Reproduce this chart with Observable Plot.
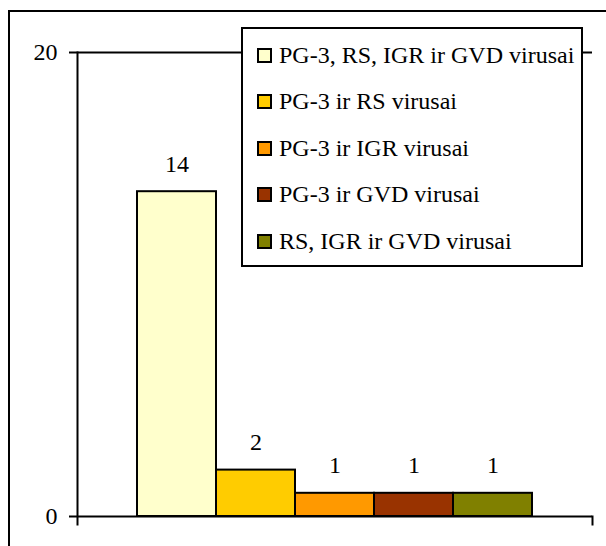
<!DOCTYPE html>
<html>
<head>
<meta charset="utf-8">
<script src="https://cdn.jsdelivr.net/npm/d3@7"></script>
<script src="https://cdn.jsdelivr.net/npm/@observablehq/plot@0.6"></script>
<style>
  body { margin: 0; font-family: 'Liberation Serif', serif; }
  .wrap { position: relative; width: 606px; height: 546px; overflow: hidden; }
  .border { position: absolute; left: 8px; top: 10px; width: 620px; height: 620px; border-left: 2px solid #000; border-top: 2px solid #000; box-sizing: border-box; }
  .chart { position: absolute; left: 0; top: 0; }
  .legend { position: absolute; left: 241px; top: 27px; width: 342px; height: 240px; box-sizing: border-box; border: 2px solid #000; background: #fff; padding-top: 3px; }
  .row { display: flex; align-items: center; height: 46.5px; font-family: 'Liberation Serif', serif; font-size: 24px; white-space: nowrap; }
  .sw { width: 15px; height: 15px; box-sizing: border-box; border: 2px solid #000; margin-left: 14px; margin-right: 7px; flex: none; }
</style>
</head>
<body>
<div class="wrap">
  <div class="border"></div>
  <div class="chart" id="chart"></div>
  <div class="legend" id="legend"></div>
</div>
<script>
const series = ["PG-3, RS, IGR ir GVD virusai", "PG-3 ir RS virusai", "PG-3 ir IGR virusai", "PG-3 ir GVD virusai", "RS, IGR ir GVD virusai"];
const values = [14, 2, 1, 1, 1];
const colors = ["#FFFFCC", "#FFCC00", "#FF9900", "#993300", "#808000"];
const yTicks = [0, 20];

const data = series.map((s, i) => ({series: s, value: values[i]}));

const W = 606, H = 546, mL = 77, mR = 14, mT = 52, mB = 30;
const plotH = H - mT - mB;

const chart = Plot.plot({
  width: W,
  height: H,
  marginLeft: mL,
  marginRight: mR,
  marginTop: mT,
  marginBottom: mB,
  style: {fontFamily: "'Liberation Serif', serif", fontSize: "24px"},
  x: {type: "band", domain: series, paddingInner: 0, paddingOuter: 0.757, axis: null},
  y: {domain: [0, 20], ticks: yTicks, label: null},
  color: {domain: series, range: colors},
  marks: [
    Plot.ruleY([20], {stroke: "#000", strokeWidth: 2}),
    Plot.barY(data, {x: "series", y: "value", fill: "series", stroke: "#000", strokeWidth: 2}),
    Plot.text(data, {x: "series", y: "value", text: d => String(d.value), lineAnchor: "bottom", dy: -20, fill: "#000", fontSize: 24}),
    Plot.ruleY([0], {stroke: "#000", strokeWidth: 2}),
    Plot.frame({anchor: "left", insetBottom: -8, stroke: "#000", strokeWidth: 2}),
    Plot.frame({anchor: "right", insetTop: plotH, insetBottom: -8, stroke: "#000", strokeWidth: 2}),
    Plot.axisY({ticks: yTicks, tickSize: 8, tickPadding: 12, strokeWidth: 2, fontSize: 24, fill: "#000", stroke: "#000", label: null})
  ]
});
document.getElementById("chart").appendChild(chart);

const legend = d3.select("#legend");
series.forEach((s, i) => {
  const row = legend.append("div").attr("class", "row");
  row.append("div").attr("class", "sw").style("background", colors[i]);
  row.append("span").text(s);
});
</script>
</body>
</html>
